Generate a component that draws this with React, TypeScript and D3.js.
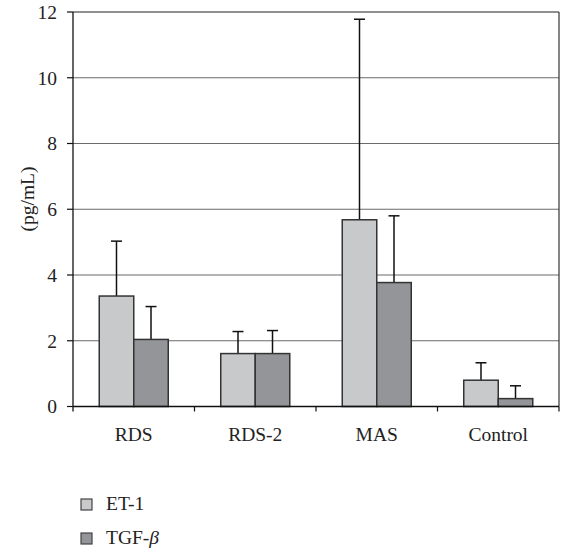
import React from "react";
import * as d3 from "d3";

const categories = ["RDS", "RDS-2", "MAS", "Control"];
const seriesNames = ["ET-1", "TGF-β"];
const et1Values = [3.36, 1.61, 5.68, 0.8];
const et1Upper = [5.03, 2.28, 11.78, 1.33];
const tgfValues = [2.04, 1.61, 3.77, 0.24];
const tgfUpper = [3.04, 2.31, 5.8, 0.63];
const yTicks = [0, 2, 4, 6, 8, 10, 12];
const colors = ["#c8c9cb", "#949598"];

const W = 563;
const H = 556;
const left = 73;
const right = 559;
const top = 12;
const bottom = 406.5;
const FONT = "'Liberation Serif', 'Times New Roman', serif";
const FS = 19.5;

export default function App() {
  const x0 = d3.scaleBand<string>().domain(categories).range([left, right]);
  const bw = x0.bandwidth();
  const x1 = d3
    .scaleBand<string>()
    .domain(seriesNames)
    .range([bw * 0.216, bw * 0.784]);
  const y = d3.scaleLinear().domain([0, 12]).range([bottom, top]);
  const values = [et1Values, tgfValues];
  const uppers = [et1Upper, tgfUpper];
  const capHalf = 5.5;

  return (
    <svg
      width={W}
      height={H}
      style={{ position: "absolute", left: 0, top: 0, background: "#fff" }}
      fontFamily={FONT}
    >
      {yTicks.filter((t) => t > 0).map((t) => (
        <line
          key={"g" + t}
          x1={left}
          x2={right}
          y1={y(t)}
          y2={y(t)}
          stroke={t === 12 ? "#222" : "#6a6a6a"}
          strokeWidth={1.2}
        />
      ))}
      <line x1={right} x2={right} y1={top} y2={bottom} stroke="#333" strokeWidth={1.2} />
      {categories.map((c, i) =>
        seriesNames.map((s, j) => {
          const bx = (x0(c) ?? 0) + (x1(s) ?? 0);
          const v = values[j][i];
          const up = uppers[j][i];
          const cx = bx + x1.bandwidth() / 2;
          return (
            <g key={c + s}>
              <line x1={cx} x2={cx} y1={y(v)} y2={y(up)} stroke="#111" strokeWidth={1.5} />
              <line
                x1={cx - capHalf}
                x2={cx + capHalf}
                y1={y(up)}
                y2={y(up)}
                stroke="#111"
                strokeWidth={1.5}
              />
              <rect
                x={bx}
                y={y(v)}
                width={x1.bandwidth()}
                height={bottom - y(v)}
                fill={colors[j]}
                stroke="#333"
                strokeWidth={1.5}
              />
            </g>
          );
        })
      )}
      <line x1={left} x2={left} y1={top} y2={bottom + 5} stroke="#111" strokeWidth={1.3} />
      {yTicks.map((t) => (
        <g key={"t" + t}>
          <line x1={left - 6} x2={left} y1={y(t)} y2={y(t)} stroke="#111" strokeWidth={1.2} />
          <text x={57} y={y(t)} dy="0.35em" textAnchor="end" fontSize={FS} fill="#222">
            {t}
          </text>
        </g>
      ))}
      <line x1={left} x2={right} y1={bottom} y2={bottom} stroke="#111" strokeWidth={1.3} />
      {categories.map((c) => (
        <line
          key={"xt" + c}
          x1={(x0(c) ?? 0) + bw}
          x2={(x0(c) ?? 0) + bw}
          y1={bottom}
          y2={bottom + 5}
          stroke="#111"
          strokeWidth={1.2}
        />
      ))}
      {categories.map((c) => (
        <text
          key={"xl" + c}
          x={(x0(c) ?? 0) + bw / 2}
          y={441}
          textAnchor="middle"
          fontSize={FS}
          fill="#222"
        >
          {c}
        </text>
      ))}
      <text
        transform={`translate(34, 199) rotate(-90)`}
        textAnchor="middle"
        fontSize={FS}
        fill="#222"
      >
        (pg/mL)
      </text>
      {seriesNames.map((s, j) => (
        <g key={"lg" + s} transform={`translate(0, ${j * 34})`}>
          <rect x={81} y={499} width={11} height={11} fill={colors[j]} stroke="#444" strokeWidth={1.2} />
          <text x={106} y={510} fontSize={FS} fill="#222">
            {s === "TGF-β" ? (
              <>
                TGF-<tspan fontStyle="italic">β</tspan>
              </>
            ) : (
              s
            )}
          </text>
        </g>
      ))}
    </svg>
  );
}
